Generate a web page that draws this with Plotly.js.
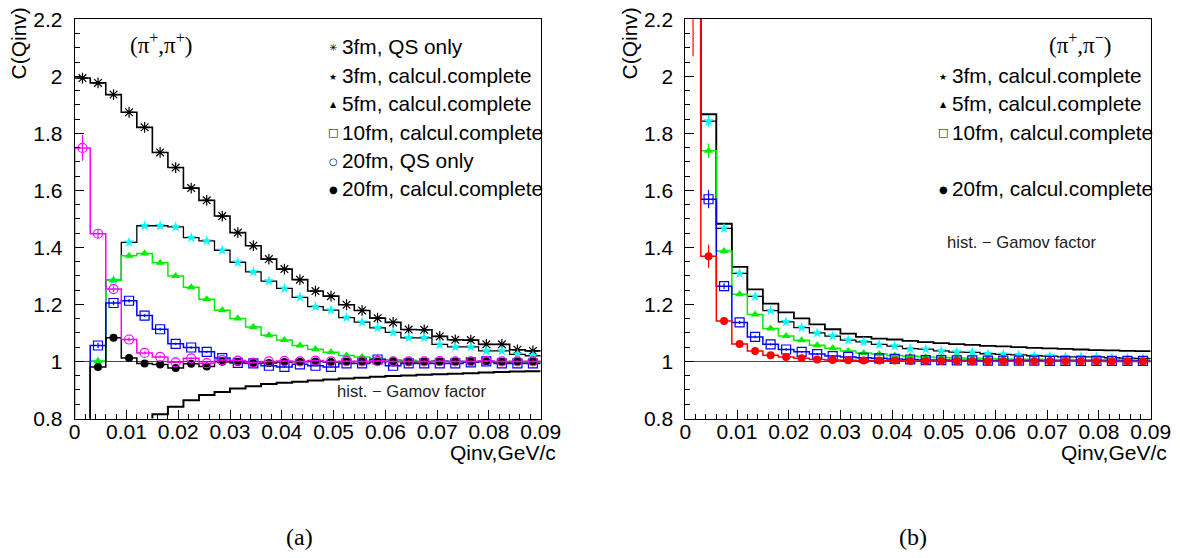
<!DOCTYPE html>
<html>
<head>
<meta charset="utf-8">
<script src="https://cdn.plot.ly/plotly-3.0.1.min.js"></script>
<style>html,body{margin:0;padding:0;background:#fff}#chart{width:1180px;height:558px}</style>
</head>
<body>
<div id="chart"></div>
<script>
// ---------- data ----------
// bin lower edges of Qinv (GeV/c), bin width 0.003
const binWidth = 0.003;
const qLow = [0,0.003,0.006,0.009,0.012,0.015,0.018,0.021,0.024,0.027,0.030,0.033,0.036,0.039,0.042,0.045,0.048,0.051,0.054,0.057,0.060,0.063,0.066,0.069,0.072,0.075,0.078,0.081,0.084,0.087];
const qMax = 0.09;

// panel (a): (pi+, pi+)
const a_3fmQS   = [1.994,1.977,1.936,1.874,1.821,1.733,1.680,1.608,1.565,1.510,1.452,1.406,1.359,1.324,1.287,1.247,1.229,1.199,1.179,1.152,1.137,1.112,1.111,1.088,1.076,1.075,1.060,1.060,1.041,1.037];
const a_3fmFull = [0.500,1.000,1.285,1.418,1.476,1.476,1.472,1.434,1.423,1.390,1.348,1.314,1.282,1.256,1.225,1.192,1.180,1.154,1.138,1.118,1.102,1.083,1.083,1.060,1.051,1.051,1.037,1.037,1.025,1.020];
const a_5fmFull = [0.500,1.001,1.285,1.371,1.379,1.346,1.300,1.260,1.218,1.180,1.151,1.121,1.092,1.075,1.056,1.043,1.032,1.021,1.016,1.010,1.006,1.004,1.000,1.002,1.000,0.998,1.000,0.998,0.997,0.997];
const a_10fmFull= [0.500,1.056,1.205,1.213,1.161,1.113,1.062,1.049,1.034,1.012,0.995,0.993,0.985,0.981,0.990,0.985,0.981,0.993,0.993,1.007,0.985,0.993,0.993,0.993,0.993,0.997,1.000,0.993,0.993,0.993];
const a_20fmQS  = [1.749,1.448,1.254,1.077,1.030,1.016,0.997,1.011,0.994,1.005,1.003,0.996,1.000,1.002,1.000,1.003,1.000,1.001,1.000,1.002,1.000,1.000,1.000,1.001,1.000,1.000,1.002,1.000,1.000,1.000];
const a_20fmFull= [0.550,0.981,1.083,1.012,0.993,0.989,0.977,0.992,0.982,0.999,0.998,0.994,0.995,0.998,0.999,1.000,0.998,0.999,1.000,0.999,1.000,0.998,0.999,1.000,1.000,1.000,1.000,0.999,1.000,1.000];
const a_gamov   = [0.200,0.450,0.600,0.700,0.770,0.815,0.841,0.864,0.882,0.893,0.905,0.913,0.921,0.925,0.929,0.933,0.937,0.940,0.943,0.946,0.949,0.951,0.953,0.955,0.957,0.959,0.961,0.963,0.965,0.966];
const a_err3QS  = [0.008,0.007,0.006,0.006,0.005,0.005,0.005,0.004,0.004,0.004,0.004,0.004,0.003,0.003,0.003,0.003,0.003,0.003,0.003,0.003,0.003,0.003,0.003,0.003,0.003,0.003,0.003,0.003,0.003,0.003];
const a_err20QS = [0.045,0.015,0.010,0.007,0.005,0.005,0.004,0.004,0.004,0.003,0.003,0.003,0.003,0.003,0.003,0.003,0.003,0.003,0.003,0.003,0.003,0.003,0.003,0.003,0.003,0.003,0.003,0.003,0.003,0.003];
const a_errFull = [0.010,0.010,0.008,0.006,0.005,0.005,0.004,0.004,0.004,0.003,0.003,0.003,0.003,0.003,0.003,0.003,0.003,0.003,0.003,0.003,0.003,0.003,0.003,0.003,0.003,0.003,0.003,0.003,0.003,0.003];

// panel (b): (pi+, pi-)
const b_gamov   = [3.500,1.867,1.483,1.332,1.253,1.203,1.172,1.151,1.130,1.113,1.098,1.086,1.080,1.077,1.072,1.068,1.064,1.061,1.058,1.055,1.053,1.050,1.048,1.046,1.044,1.042,1.040,1.039,1.037,1.036];
const b_3fmFull = [3.000,1.843,1.467,1.309,1.228,1.178,1.139,1.119,1.100,1.089,1.075,1.069,1.060,1.054,1.045,1.043,1.037,1.033,1.032,1.027,1.025,1.023,1.020,1.019,1.016,1.016,1.016,1.013,1.012,1.011];
const b_5fmFull = [2.800,1.739,1.387,1.236,1.165,1.116,1.089,1.074,1.057,1.046,1.037,1.030,1.026,1.021,1.018,1.016,1.014,1.012,1.011,1.010,1.009,1.008,1.008,1.007,1.007,1.006,1.006,1.006,1.005,1.005];
const b_10fmFull= [2.600,1.569,1.264,1.137,1.086,1.060,1.042,1.034,1.026,1.019,1.016,1.013,1.011,1.009,1.007,1.005,1.005,1.004,1.004,1.003,1.003,1.003,1.003,1.002,1.002,1.002,1.002,1.002,1.002,1.002];
const b_20fmFull= [2.400,1.369,1.142,1.061,1.037,1.022,1.016,1.011,1.007,1.005,1.004,1.003,1.003,1.003,1.002,1.002,1.002,1.002,1.001,1.001,1.001,1.001,1.001,1.001,1.001,1.001,1.001,1.000,1.000,1.000];
const b_err3    = [0.300,0.020,0.010,0.006,0.005,0.004,0.004,0.003,0.003,0.003,0.003,0.003,0.003,0.003,0.003,0.003,0.003,0.003,0.003,0.003,0.003,0.003,0.003,0.003,0.003,0.003,0.003,0.003,0.003,0.003];
const b_err5    = [0.300,0.025,0.010,0.006,0.005,0.004,0.004,0.003,0.003,0.003,0.003,0.003,0.003,0.003,0.003,0.003,0.003,0.003,0.003,0.003,0.003,0.003,0.003,0.003,0.003,0.003,0.003,0.003,0.003,0.003];
const b_err10   = [0.300,0.032,0.010,0.006,0.005,0.004,0.004,0.003,0.003,0.003,0.003,0.003,0.003,0.003,0.003,0.003,0.003,0.003,0.003,0.003,0.003,0.003,0.003,0.003,0.003,0.003,0.003,0.003,0.003,0.003];
const b_err20   = [0.330,0.040,0.010,0.006,0.005,0.004,0.004,0.003,0.003,0.003,0.003,0.003,0.003,0.003,0.003,0.003,0.003,0.003,0.003,0.003,0.003,0.003,0.003,0.003,0.003,0.003,0.003,0.003,0.003,0.003];

// labels
const legendA = [["\u2733","3fm, QS only"],["\u2605","3fm, calcul.complete"],["\u25B2","5fm, calcul.complete"],["\u25A1","10fm, calcul.complete"],["\u25CB","20fm, QS only"],["\u25CF","20fm, calcul.complete"]];
const legendB = [["\u2605","3fm, calcul.complete"],["\u25B2","5fm, calcul.complete"],["\u25A1","10fm, calcul.complete"],null,["\u25CF","20fm, calcul.complete"]];

// ---------- helpers ----------
const W = 1180, H = 558;
const FONT = "Liberation Sans, Arial, Helvetica, sans-serif";
const yRange = [0.8, 2.2];
const qCenter = qLow.map(v => v + binWidth / 2);
const px = x => x / W, py = y => 1 - y / H;

function stepTrace(vals, color, width, xa, ya, fromBottom) {
  const xs = qLow.concat([qMax]);
  const ys = vals.concat([vals[vals.length - 1]]);
  if (fromBottom) { xs.unshift(qLow[0]); ys.unshift(yRange[0]); }
  return {type:'scatter', mode:'lines', x:xs, y:ys, xaxis:xa, yaxis:ya, line:{shape:'hv', color:color, width:width}, hoverinfo:'skip', showlegend:false};
}
function markTrace(vals, errs, color, symbol, size, xa, ya, lineOnly) {
  const m = {symbol:symbol, size:size, color:color};
  if (lineOnly) m.line = {color:color, width:1.2};
  return {type:'scatter', mode:'markers', x:qCenter, y:vals, xaxis:xa, yaxis:ya, marker:m,
    error_y:{type:'data', array:errs, visible:true, color:color, thickness:1.2, width:0},
    hoverinfo:'skip', showlegend:false};
}

const CYAN='#00ffff', GREEN='#00ee00', BLUE='#0000ff', MAG='#ff00ff', RED='#ff0000', BLK='#000000';

const traces = [
  stepTrace(a_gamov, BLK, 2, 'x', 'y', false),
  stepTrace(a_3fmQS, BLK, 1.6, 'x', 'y', false),
  markTrace(a_3fmQS, a_err3QS, BLK, 'asterisk-open', 9, 'x', 'y', true),
  stepTrace(a_3fmFull, BLK, 1.3, 'x', 'y', false),
  markTrace(a_3fmFull, a_errFull, CYAN, 'star', 8, 'x', 'y'),
  stepTrace(a_5fmFull, GREEN, 1.5, 'x', 'y', false),
  markTrace(a_5fmFull, a_errFull, GREEN, 'triangle-up', 8, 'x', 'y'),
  stepTrace(a_10fmFull, BLUE, 1.5, 'x', 'y', false),
  markTrace(a_10fmFull, a_errFull, BLUE, 'square-open', 9, 'x', 'y', true),
  stepTrace(a_20fmFull, BLK, 1.5, 'x', 'y', false),
  markTrace(a_20fmFull, a_errFull, BLK, 'circle', 8, 'x', 'y'),
  stepTrace(a_20fmQS, MAG, 1.5, 'x', 'y', true),
  markTrace(a_20fmQS, a_err20QS, MAG, 'circle-open', 9, 'x', 'y', true),

  stepTrace(b_gamov, BLK, 1.8, 'x2', 'y2', false),
  stepTrace(b_3fmFull, BLK, 1.3, 'x2', 'y2', false),
  markTrace(b_3fmFull, b_err3, CYAN, 'star', 8, 'x2', 'y2'),
  stepTrace(b_5fmFull, GREEN, 1.5, 'x2', 'y2', false),
  markTrace(b_5fmFull, b_err5, GREEN, 'triangle-up', 8, 'x2', 'y2'),
  stepTrace(b_10fmFull, BLUE, 1.5, 'x2', 'y2', false),
  markTrace(b_10fmFull, b_err10, BLUE, 'square-open', 9, 'x2', 'y2', true),
  stepTrace(b_20fmFull, RED, 1.5, 'x2', 'y2', false),
  markTrace(b_20fmFull, b_err20, RED, 'circle', 8, 'x2', 'y2')
];

function xAxis(d0, d1, anchor) {
  return {domain:[px(d0), px(d1)], anchor:anchor, range:[0, qMax], dtick:0.01, tick0:0,
    ticks:'inside', ticklen:9, tickwidth:1, tickcolor:'#000',
    minor:{dtick:0.002, tick0:0, ticks:'inside', ticklen:5, tickwidth:1, tickcolor:'#000', showgrid:false},
    showline:true, mirror:true, linecolor:'#000', linewidth:1, showgrid:false, zeroline:false,
    tickfont:{family:FONT, size:21, color:'#000'}, ticklabelstandoff:-6, fixedrange:true};
}
function yAxis(anchor) {
  return {domain:[py(418.5), py(19.3)], anchor:anchor, range:yRange, dtick:0.2, tick0:0,
    ticks:'inside', ticklen:9, tickwidth:1, tickcolor:'#000',
    minor:{dtick:0.05, tick0:0, ticks:'inside', ticklen:5, tickwidth:1, tickcolor:'#000', showgrid:false},
    showline:true, mirror:true, linecolor:'#000', linewidth:1, showgrid:false, zeroline:false,
    tickfont:{family:FONT, size:21, color:'#000'}, ticklabelstandoff:7, fixedrange:true};
}

const ann = [];
function txt(x, y, text, opts) {
  ann.push(Object.assign({xref:'paper', yref:'paper', x:px(x), y:py(y), text:text, showarrow:false,
    xanchor:'left', yanchor:'middle', font:{family:FONT, size:20.8, color:'#000'}}, opts || {}));
}
// axis titles
txt(18, 43.5, 'C(Qinv)', {textangle:-90, xanchor:'center', font:{family:FONT, size:21, color:'#000'}});
txt(629, 43.5, 'C(Qinv)', {textangle:-90, xanchor:'center', font:{family:FONT, size:21, color:'#000'}});
txt(558, 453, 'Qinv,GeV/c', {xanchor:'right', font:{family:FONT, size:21, color:'#000'}});
txt(1168.6, 453, 'Qinv,GeV/c', {xanchor:'right', font:{family:FONT, size:21, color:'#000'}});
// panel tags
txt(161, 43.3, '(\u03C0<sup>+</sup>,\u03C0<sup>+</sup>)', {xanchor:'center', font:{family:'Liberation Serif, serif', size:23, color:'#000'}});
txt(1080, 43.3, '(\u03C0<sup>+</sup>,\u03C0<sup>\u2212</sup>)', {xanchor:'center', font:{family:'Liberation Serif, serif', size:23, color:'#000'}});
txt(335, 391.7, 'hist. \u2212 Gamov factor', {font:{family:FONT, size:16.6, color:'#222'}});
txt(945, 242.7, 'hist. \u2212 Gamov factor', {font:{family:FONT, size:16.6, color:'#222'}});
txt(299, 536.5, '(a)', {xanchor:'center', font:{family:'Liberation Serif, serif', size:24, color:'#000'}});
txt(913, 536.5, '(b)', {xanchor:'center', font:{family:'Liberation Serif, serif', size:24, color:'#000'}});
// legends
const symSize = {"\u2733":10, "\u2605":9, "\u25B2":8, "\u25A1":11, "\u25CB":10, "\u25CF":10};
const rowsA = [46.7, 76, 103.3, 132, 160.7, 188.7];
legendA.forEach((e, i) => {
  txt(333.3, rowsA[i] + 1, e[0], {xanchor:'center', font:{family:'DejaVu Sans', size:symSize[e[0]], color:'#000'}});
  txt(340, rowsA[i], e[1]);
});
const rowsB = [76, 103.3, 132, 160.4, 188.7];
legendB.forEach((e, i) => {
  if (!e) return;
  txt(943.3, rowsB[i] + 1, e[0], {xanchor:'center', font:{family:'DejaVu Sans', size:symSize[e[0]], color:'#000'}});
  txt(950, rowsB[i], e[1]);
});

const layout = {
  width:W, height:H, margin:{l:0, r:0, t:0, b:0}, paper_bgcolor:'#fff', plot_bgcolor:'#fff',
  showlegend:false,
  xaxis:xAxis(74.7, 540.7, 'y'), yaxis:yAxis('x'),
  xaxis2:xAxis(685.3, 1150.7, 'y2'), yaxis2:yAxis('x2'),
  shapes:[
    {type:'line', xref:'x domain', yref:'y', x0:0, x1:1, y0:1, y1:1, line:{color:'#444', width:1}, layer:'below'},
    {type:'line', xref:'x2 domain', yref:'y2', x0:0, x1:1, y0:1, y1:1, line:{color:'#444', width:1}, layer:'below'}
  ],
  annotations:ann
};
Plotly.newPlot('chart', traces, layout, {staticPlot:true, displayModeBar:false});
</script>
</body>
</html>
